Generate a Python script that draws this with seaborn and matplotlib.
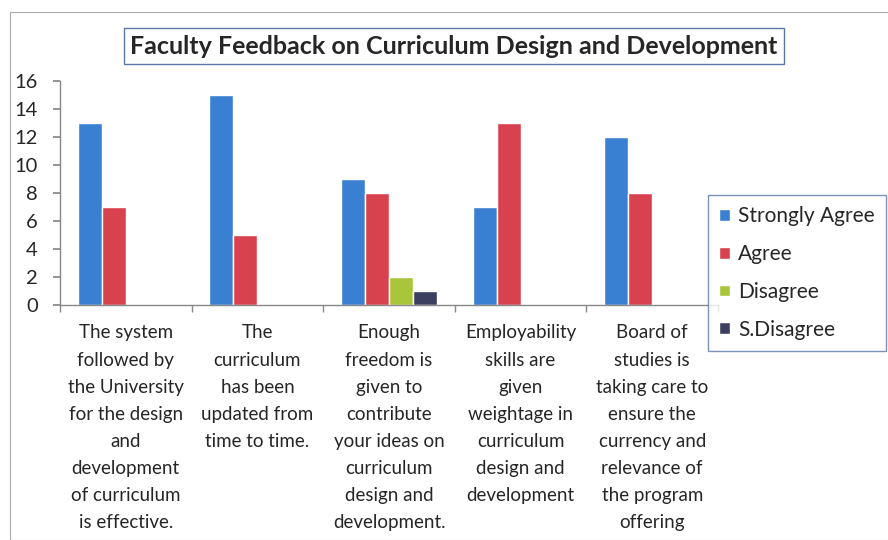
import matplotlib
matplotlib.use("Agg")
import matplotlib.pyplot as plt
import seaborn as sns
import pandas as pd
from matplotlib.patches import Rectangle

categories = [
    "The system\nfollowed by\nthe University\nfor the design\nand\ndevelopment\nof curriculum\nis effective.",
    "The\ncurriculum\nhas been\nupdated from\ntime to time.",
    "Enough\nfreedom is\ngiven to\ncontribute\nyour ideas on\ncurriculum\ndesign and\ndevelopment.",
    "Employability\nskills are\ngiven\nweightage in\ncurriculum\ndesign and\ndevelopment",
    "Board of\nstudies is\ntaking care to\nensure the\ncurrency and\nrelevance of\nthe program\noffering",
]
series = ["Strongly Agree", "Agree", "Disagree", "S.Disagree"]
strongly_agree = [13, 15, 9, 7, 12]
agree = [7, 5, 8, 13, 8]
disagree = [0, 0, 2, 0, 0]
s_disagree = [0, 0, 1, 0, 0]
yticks = [0, 2, 4, 6, 8, 10, 12, 14, 16]
title = "Faculty Feedback on Curriculum Design and Development"

colors = ["#3a80d2", "#d8424f", "#a9c63b", "#3d3f60"]

rows = []
for name, vals in zip(series, [strongly_agree, agree, disagree, s_disagree]):
    for c, v in zip(categories, vals):
        rows.append({"category": c, "series": name, "value": v})
df = pd.DataFrame(rows)

sns.set_theme(style="white")
plt.rcParams['font.family'] = ['Lato', 'DejaVu Sans']

fig = plt.figure(figsize=(8.88, 5.4), dpi=100)
ax = fig.add_axes([60/888, 1-305/540, (718-60)/888, (305-81)/540])

sns.barplot(data=df, x="category", y="value", hue="series", order=categories,
            hue_order=series, palette=colors, width=0.73, saturation=1,
            ax=ax, legend=True)

ax.set_ylim(0, 16)
ax.set_yticks(yticks)
ax.set_xlim(-0.5, 4.5)
ax.set_xlabel("")
ax.set_ylabel("")
for s in ["top", "right"]:
    ax.spines[s].set_visible(False)
for s in ["left", "bottom"]:
    ax.spines[s].set_color("#888888")
    ax.spines[s].set_linewidth(1)
ax.tick_params(axis="y", labelsize=14.5, length=5, color="#888888", direction="out", left=True, pad=11)
ax.set_xticks([i - 0.5 for i in range(6)], minor=True)
ax.tick_params(axis="x", which="minor", length=5, color="#888888", direction="out", bottom=True)
ax.tick_params(axis="x", which="major", length=0, labelsize=13.5, pad=14)
for lab in ax.get_xticklabels():
    lab.set_linespacing(1.72)
    lab.set_ha("center")
    lab.set_va("top")

handles, labels = ax.get_legend_handles_labels()
leg = ax.legend(handles, labels, loc="upper left", bbox_to_anchor=(708/888, 1-195/540),
          bbox_transform=fig.transFigure, fontsize=15, frameon=True, fancybox=False,
          edgecolor="#5a78a8", handlelength=0.5, handleheight=0.5, handletextpad=0.4,
          labelspacing=0.85, borderpad=0.55, borderaxespad=0)
leg.get_frame().set_linewidth(1)

fig.text(454/888, 1-46/540, title, ha="center", va="center", fontsize=18,
         fontweight="bold",
         bbox=dict(boxstyle="square,pad=0.25", facecolor="white", edgecolor="#5a78a8", linewidth=1))

fig.patches.append(Rectangle((10/888, 0), 1.2, 1-12/540, transform=fig.transFigure,
                             fill=False, edgecolor="#aaaaaa", linewidth=0.8))

fig.savefig("out.png", dpi=100)
